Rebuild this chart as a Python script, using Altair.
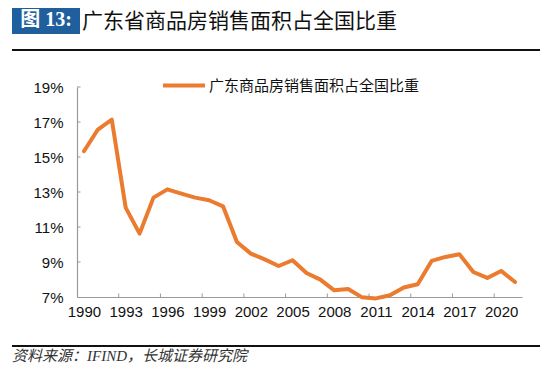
import altair as alt
import pandas as pd

years = list(range(1990, 2022))
share = [15.33, 16.57, 17.14, 12.11, 10.62, 12.68, 13.15, 12.91, 12.68, 12.53,
         12.18, 10.14, 9.48, 9.15, 8.77, 9.10, 8.37, 7.99, 7.38, 7.46,
         6.98, 6.92, 7.10, 7.54, 7.73, 9.06, 9.29, 9.44, 8.43, 8.09,
         8.49, 7.86]
x_labels = list(range(1990, 2021, 3))
x_tick_bounds = [y - 0.5 for y in range(1993, 2021, 3)]
y_ticks = [7, 9, 11, 13, 15, 17, 19]
series_name = "广东商品房销售面积占全国比重"
fig_label = "图 13:"
title_text = "广东省商品房销售面积占全国比重"
source_text = "资料来源：IFIND，长城证券研究院"

ORANGE = "#EB7B2E"
AXIS = "#9a9a9a"
W, H = 445, 210

df = pd.DataFrame({"year": years, "share": share})
xs = alt.Scale(domain=[1989.5, 2021.5], nice=False, zero=False)
ys = alt.Scale(domain=[7, 19], nice=False, zero=False)
common = dict(title=None, ticks=False, grid=False, domainColor=AXIS, domainWidth=1.2,
              labelFont="Liberation Sans", labelFontSize=15, labelColor="#111")
ax_x = alt.Axis(values=x_labels, format="d", labelPadding=7,
                labelFlush=False, labelOverlap=False, **common)
ax_y = alt.Axis(values=y_ticks, labelExpr="datum.value + '%'", labelPadding=14, **common)

line = alt.Chart(df).mark_line(color=ORANGE, strokeWidth=4, strokeJoin="round", strokeCap="round").encode(
    x=alt.X("year:Q", scale=xs, axis=ax_x),
    y=alt.Y("share:Q", scale=ys, axis=ax_y),
)

xt = alt.Chart(pd.DataFrame({"year": x_tick_bounds})).mark_rule(color=AXIS, strokeWidth=1).encode(
    x=alt.X("year:Q", scale=xs, axis=ax_x), y=alt.value(H - 3.5), y2=alt.value(H))

yt = alt.Chart(pd.DataFrame({"share": y_ticks[1:]})).mark_rule(color=AXIS, strokeWidth=1).encode(
    y=alt.Y("share:Q", scale=ys, axis=ax_y), x=alt.value(0), x2=alt.value(3.5))

one = pd.DataFrame({"a": [0]})
base = alt.Chart(one)

leg_line = base.mark_rule(color=ORANGE, strokeWidth=4).encode(
    x=alt.value(86), x2=alt.value(128), y=alt.value(-1.5))
leg_text = base.mark_text(align="left", baseline="middle", font="Noto Sans CJK SC",
                          fontSize=15, color="#111").encode(
    x=alt.value(132), y=alt.value(-1.5), text=alt.value(series_name))

box = base.mark_rect(color="#1F5F9E").encode(
    x=alt.value(-65), x2=alt.value(3), y=alt.value(-82), y2=alt.value(-53))
box_text = base.mark_text(align="center", baseline="middle", font="Liberation Serif, Noto Sans CJK SC",
                          fontSize=20, fontWeight="bold", color="white").encode(
    x=alt.value(-31), y=alt.value(-67), text=alt.value(fig_label))
ttl = base.mark_text(align="left", baseline="middle", font="Noto Sans CJK SC",
                     fontSize=21, color="#111").encode(
    x=alt.value(5), y=alt.value(-65), text=alt.value(title_text))
top_rule = base.mark_rule(color="#111", strokeWidth=2).encode(
    x=alt.value(-65), x2=alt.value(463), y=alt.value(-37))
bot_rule = base.mark_rule(color="#111", strokeWidth=2).encode(
    x=alt.value(-65), x2=alt.value(463), y=alt.value(259))
src = base.mark_text(align="left", baseline="middle", font="Liberation Serif, Noto Sans CJK SC",
                     fontSize=15, fontStyle="italic", color="#333").encode(
    x=alt.value(-65), y=alt.value(269), text=alt.value(source_text))

chart = alt.layer(line, xt, yt, leg_line, leg_text, box, box_text, ttl, top_rule, bot_rule, src).properties(
    width=W, height=H,
    background="white",
    autosize=alt.AutoSizeParams(type="none"),
    padding={"left": 69, "top": 79, "right": 18, "bottom": 66},
).configure_view(stroke=None)

chart.save("out.html", embed_options={"renderer": "svg", "actions": False})
